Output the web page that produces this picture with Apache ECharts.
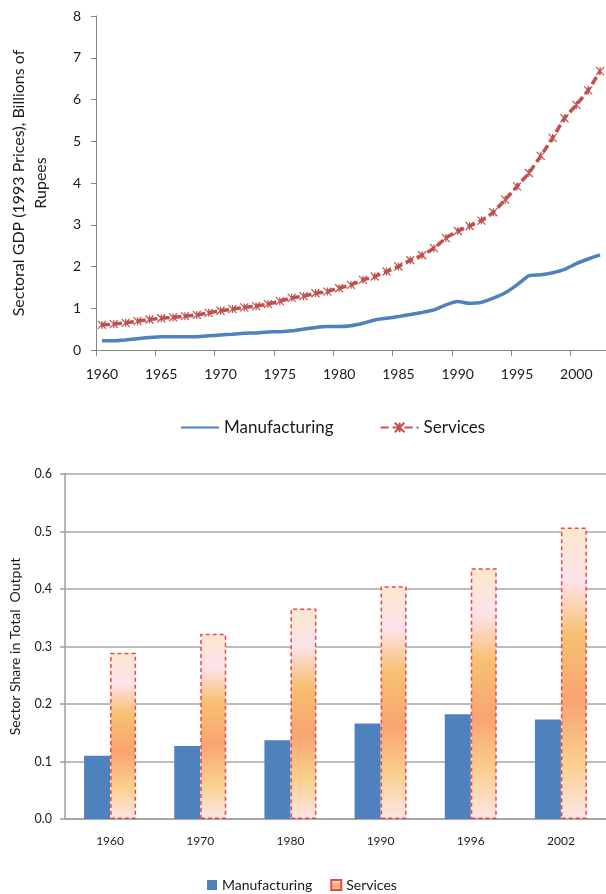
<!DOCTYPE html>
<html>
<head>
<meta charset="utf-8">
<script src="https://cdn.jsdelivr.net/npm/echarts@6/dist/echarts.min.js"></script>
<style>
  html, body { margin: 0; padding: 0; background: #fff; }
  #chartTop { position: absolute; left: 0; top: 0; width: 606px; height: 447px; }
  #chartBottom { position: absolute; left: 0; top: 447px; width: 606px; height: 447px; }
</style>
</head>
<body>
<div id="chartTop"></div>
<div id="chartBottom"></div>
<script>
// ---- Top chart data (Billions of Rupees, 1993 prices) ----
const years = [];
for (let y = 1960; y <= 2002; y++) years.push(String(y));
const manufacturingGDP = [0.22, 0.22, 0.24, 0.27, 0.30, 0.32, 0.32, 0.32, 0.32, 0.34,
  0.36, 0.38, 0.40, 0.41, 0.43, 0.44, 0.46, 0.50, 0.54, 0.56,
  0.56, 0.58, 0.64, 0.72, 0.76, 0.80, 0.85, 0.90, 0.96, 1.08,
  1.16, 1.12, 1.14, 1.24, 1.37, 1.56, 1.78, 1.80, 1.85, 1.93,
  2.07, 2.18, 2.28];
const servicesGDP = [0.60, 0.62, 0.65, 0.69, 0.73, 0.76, 0.78, 0.81, 0.84, 0.89,
  0.94, 0.98, 1.02, 1.05, 1.10, 1.17, 1.25, 1.29, 1.36, 1.40,
  1.48, 1.56, 1.68, 1.76, 1.88, 2.00, 2.15, 2.27, 2.44, 2.68,
  2.85, 2.97, 3.10, 3.30, 3.60, 3.92, 4.24, 4.65, 5.08, 5.55,
  5.87, 6.22, 6.68];
const topYTicks = [0, 1, 2, 3, 4, 5, 6, 7, 8];

// ---- Bottom chart data (share in total output) ----
const shareYears = ['1960', '1970', '1980', '1990', '1996', '2002'];
const manufacturingShare = [0.110, 0.127, 0.137, 0.166, 0.182, 0.173];
const servicesShare = [0.289, 0.322, 0.366, 0.405, 0.436, 0.507];
const shareYTicks = [0.0, 0.1, 0.2, 0.3, 0.4, 0.5, 0.6];

const FONT = 'Lato, "Open Sans", sans-serif';
const TXT = '#1a1a1a';
const AXIS = '#868686';

// ---------------- Top chart ----------------
const topChart = echarts.init(document.getElementById('chartTop'), null, { renderer: 'canvas' });
topChart.setOption({
  animation: false,
  backgroundColor: '#fff',
  textStyle: { fontFamily: FONT },
  grid: { left: 92, top: 16, width: 522, height: 334, containLabel: false },
  legend: {
    left: 175, top: 414,
    itemWidth: 38, itemHeight: 12, itemGap: 46,
    textStyle: { fontFamily: FONT, fontSize: 17, color: TXT },
    data: [
      { name: 'Manufacturing', itemStyle: { opacity: 0 } },
      { name: 'Services' }
    ]
  },
  xAxis: {
    type: 'category',
    data: years,
    boundaryGap: true,
    axisLine: { lineStyle: { color: AXIS, width: 1 } },
    axisTick: { show: true, interval: 4, length: 6, lineStyle: { color: AXIS } },
    axisLabel: { interval: 4, margin: 17, fontSize: 14, color: TXT, fontFamily: FONT },
    splitLine: { show: false }
  },
  yAxis: {
    type: 'value',
    min: topYTicks[0], max: topYTicks[topYTicks.length - 1], interval: 1,
    name: 'Sectoral GDP (1993 Prices), Billions of\nRupees',
    nameLocation: 'middle',
    nameGap: 44,
    nameRotate: 90,
    nameTextStyle: { fontFamily: FONT, fontSize: 16, color: TXT, lineHeight: 22, align: 'center' },
    axisLine: { show: true, lineStyle: { color: AXIS, width: 1 } },
    axisTick: { show: true, length: 5, lineStyle: { color: AXIS } },
    axisLabel: { margin: 15, fontSize: 14, color: TXT, fontFamily: FONT },
    splitLine: { show: false }
  },
  series: [
    {
      name: 'Manufacturing',
      type: 'line',
      data: manufacturingGDP,
      symbol: 'none',
      smooth: 0.15,
      lineStyle: { color: '#4F81BD', width: 3.5 },
      itemStyle: { color: '#4F81BD' }
    },
    {
      name: 'Services',
      type: 'line',
      data: servicesGDP,
      symbol: 'path://M0,0L10,10M10,0L0,10M5,0L5,10',
      symbolSize: 8,
      showSymbol: true,
      showAllSymbol: true,
      smooth: 0.15,
      lineStyle: { color: '#C0504D', width: 3.5, type: [8, 4] },
      itemStyle: { color: '#C0504D', borderColor: '#C0504D', borderWidth: 1.2 }
    }
  ]
});

// ---------------- Bottom chart ----------------
const gradient = new echarts.graphic.LinearGradient(0, 0, 0, 1, [
  { offset: 0.00, color: '#FBE8CC' },
  { offset: 0.18, color: '#FDE3EC' },
  { offset: 0.37, color: '#F7C070' },
  { offset: 0.60, color: '#F9A472' },
  { offset: 0.81, color: '#FAD08E' },
  { offset: 1.00, color: '#FDE6E6' }
]);

const bottomChart = echarts.init(document.getElementById('chartBottom'), null, { renderer: 'canvas' });
bottomChart.setOption({
  animation: false,
  backgroundColor: '#fff',
  textStyle: { fontFamily: FONT },
  grid: { left: 61, top: 27, width: 546, height: 345, containLabel: false },
  legend: {
    left: 202, top: 426,
    itemWidth: 10, itemHeight: 10, itemGap: 18, itemTextGap: 4,
    textStyle: { fontFamily: FONT, fontSize: 14, color: TXT },
    data: [
      { name: 'Manufacturing', icon: 'rect' },
      { name: 'Services', icon: 'rect' }
    ]
  },
  xAxis: {
    type: 'category',
    data: shareYears,
    axisLine: { lineStyle: { color: '#A0A0A0', width: 1.5 } },
    axisTick: { show: false },
    axisLabel: { margin: 16, fontSize: 12, color: TXT, fontFamily: FONT }
  },
  yAxis: {
    type: 'value',
    min: shareYTicks[0], max: shareYTicks[shareYTicks.length - 1], interval: 0.1,
    name: 'Sector Share in Total  Output',
    nameLocation: 'middle',
    nameGap: 43,
    nameRotate: 90,
    nameTextStyle: { fontFamily: FONT, fontSize: 14, color: TXT },
    axisLine: { show: true, lineStyle: { color: '#A0A0A0', width: 1.5 } },
    axisTick: { show: true, length: 5, lineStyle: { color: '#A0A0A0', width: 1.5 } },
    axisLabel: { margin: 13, fontSize: 12.5, color: TXT, fontFamily: FONT,
      formatter: v => v.toFixed(1) },
    splitLine: { show: true, lineStyle: { color: '#A6A6A6', width: 1.5 } }
  },
  series: [
    {
      name: 'Manufacturing',
      type: 'bar',
      data: manufacturingShare,
      barWidth: 26,
      barGap: '0%',
      itemStyle: { color: '#4F81BD' }
    },
    {
      name: 'Services',
      type: 'bar',
      data: servicesShare,
      barWidth: 26,
      barGap: '0%',
      itemStyle: {
        color: gradient,
        borderColor: '#E5484D',
        borderWidth: 1.5,
        borderType: [4, 3]
      }
    }
  ]
});
</script>
</body>
</html>
